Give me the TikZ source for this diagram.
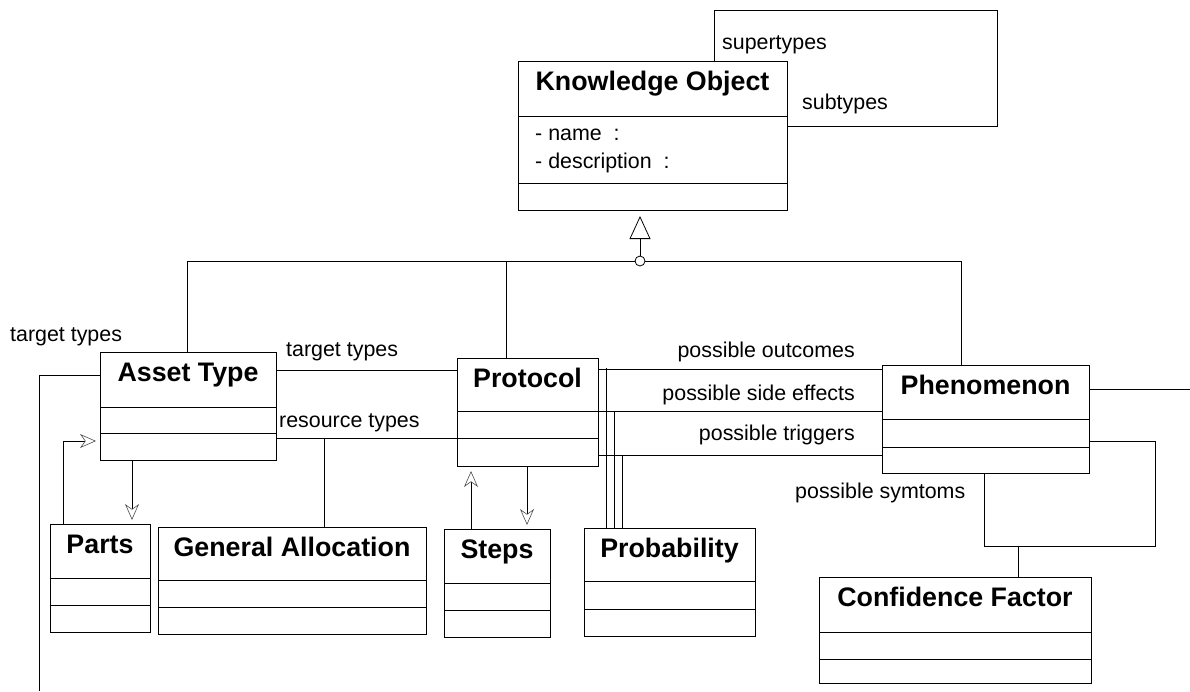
\documentclass[tikz,border=0pt]{standalone}
\usepackage{fontspec}
\setmainfont{Liberation Sans}
\usepackage{tikz}
\usetikzlibrary{arrows.meta, positioning}

\tikzset{
  classbox/.style={draw, line width=1pt, inner sep=0pt, anchor=north west},
  classname/.style={font=\fontsize{26.8}{30}\selectfont\bfseries, anchor=base, inner sep=0pt},
  rolelabel/.style={font=\fontsize{21.4}{25}\selectfont, inner sep=0pt, anchor=base west},
  assoc/.style={line width=1pt},
  navarrow/.style={line width=1pt, shorten >=4pt,
    -{Stealth[open, length=16pt, width=14pt, inset=5pt, line width=0.6pt, color=black!70]}},
}

% name, left, top, right, bottom, first divider, second divider, title
\newcommand{\umlclass}[8]{%
  \node[classbox, minimum width={(#4-#2)*1pt}, minimum height={(#5-#3)*1pt}] (#1) at (#2,#3) {};
  \node[classname] (#1-title) at ({(#2+#4)/2}, #3+29) {#8};
  \draw[line width=1pt] (#2,#6) -- (#4,#6);
  \draw[line width=1pt] (#2,#7) -- (#4,#7);
}

\begin{document}
\begin{tikzpicture}[x=1pt, y=-1pt]
    \useasboundingbox (0,0) rectangle (1190,691);

    % Classes
    \umlclass{ko}{518}{61}{787}{210}{116}{183}{Knowledge Object}
    \umlclass{asset}{100}{352}{276}{460}{407}{433}{Asset Type}
    \umlclass{protocol}{457}{358}{598}{466}{411}{438}{Protocol}
    \umlclass{phen}{882}{365}{1089}{473}{419}{447}{Phenomenon}
    \umlclass{parts}{50}{524}{150}{632}{578}{605}{Parts}
    \umlclass{genalloc}{158}{527}{426}{634}{580}{607}{General Allocation}
    \umlclass{steps}{444}{529}{550}{637}{583}{610}{Steps}
    \umlclass{prob}{584}{528}{755}{636}{581}{609}{Probability}
    \umlclass{conf}{819}{577}{1091}{683}{632}{659}{Confidence Factor}

    % Attributes
    \node[rolelabel] (koname) at (535,140) {- name\ \ :};
    \node[rolelabel] (kodesc) at (535,168) {- description\ \ :};

    % Self association of Knowledge Object
    \draw[assoc] (ko.north -| 714,0) -- (714,10) -- (997,10) -- (997,126) -- (ko.east |- 0,126);
    \node[rolelabel] (supertypes) at (722,49.5) {supertypes};
    \node[rolelabel] (subtypes) at (802,109) {subtypes};

    % Generalization
    \draw[assoc] (asset.north -| 187,0) -- (187,261) -- (961,261) -- (phen.north -| 961,0);
    \draw[assoc] (506,261) -- (protocol.north -| 506,0);
    \node[circle, draw, fill=white, minimum size=10pt, inner sep=0pt, line width=0.8pt] (genjoin) at (640,261) {};
    \draw[assoc, shorten >=5pt, -{Triangle[open, length=23pt, width=21pt, line width=0.8pt]}] (genjoin) -- (ko.south -| genjoin);

    % Asset Type associations
    \coordinate (wrapL) at (39,691);
    \coordinate (wrapR) at (1190,389);
    \draw[assoc] (asset.west |- 0,375) -| (wrapL);
    \draw[assoc] (phen.east |- 0,389) -- (wrapR);
    \node[rolelabel] (targetL) at (10,341) {target types};
    \draw[assoc] (asset.east |- 0,370) -- (protocol.west |- 0,370);
    \node[rolelabel] (targetM) at (286,356) {target types};
    \draw[assoc] (asset.east |- 0,438) -- (protocol.west |- 0,438);
    \node[rolelabel] (resource) at (279,427) {resource types};
    \draw[assoc] (genalloc.north -| 324,0) -- (324,438);

    % Navigable links
    \draw[navarrow] (parts.north -| 63,0) |- (asset.west |- 0,441);
    \draw[navarrow] (asset.south -| 132,0) -- (parts.north -| 132,0);
    \draw[navarrow] (steps.north -| 471,0) -- (protocol.south -| 471,0);
    \draw[navarrow] (protocol.south -| 527,0) -- (steps.north -| 527,0);

    % Protocol to Phenomenon
    \draw[assoc] (protocol.east |- 0,369) -- (phen.west |- 0,369);
    \draw[assoc] (protocol.east |- 0,411) -- (phen.west |- 0,411);
    \draw[assoc] (protocol.east |- 0,455) -- (phen.west |- 0,455);
    \node[rolelabel, anchor=base east] (outcomes) at (855,357) {possible outcomes};
    \node[rolelabel, anchor=base east] (sideeff) at (855,400) {possible side effects};
    \node[rolelabel, anchor=base east] (triggers) at (855,440) {possible triggers};
    \draw[assoc] (606,368) -- (prob.north -| 606,0);
    \draw[assoc] (614,411) -- (prob.north -| 614,0);
    \draw[assoc] (622,455) -- (prob.north -| 622,0);

    % Symptoms and Confidence Factor
    \draw[assoc] (phen.east |- 0,441) -| (1155,546) -| (phen.south -| 984,0);
    \node[rolelabel] (symtoms) at (795,498) {possible symtoms};
    \draw[assoc] (1018,546) -- (conf.north -| 1018,0);
\end{tikzpicture}
\end{document}
